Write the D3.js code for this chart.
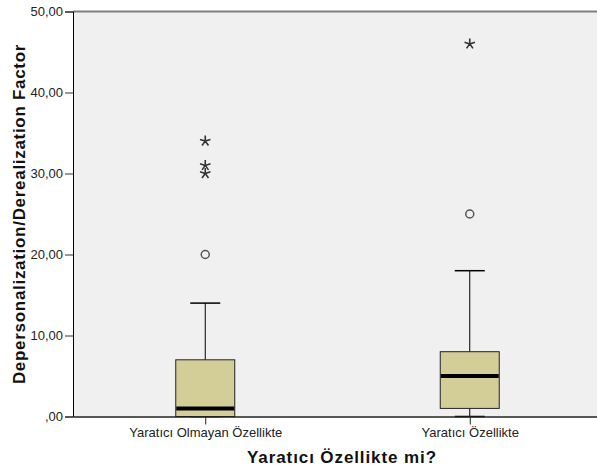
<!DOCTYPE html>
<html><head><meta charset="utf-8">
<script src="https://cdn.jsdelivr.net/npm/d3@7"></script>
<style>body{margin:0;background:#fff}svg{display:block}</style>
</head><body>
<script>
const categories = ["Yaratıcı Olmayan Özellikte", "Yaratıcı Özellikte"];
const whiskerLow = [0, 0];
const q1 = [0, 1];
const medians = [1, 5];
const q3 = [7, 8];
const whiskerHigh = [14, 18];
const outliers = [[20], [25]];
const extremes = [[34, 31, 30], [46]];
const yTicks = [0, 10, 20, 30, 40, 50];
const yTickLabels = [",00", "10,00", "20,00", "30,00", "40,00", "50,00"];
const xTitle = "Yaratıcı Özellikte mi?";
const yTitle = "Depersonalization/Derealization Factor";

const W = 597, H = 473;
const L = 73, R = 602, T = 11.5, B = 416.5;
const svg = d3.select("body").append("svg").attr("width", W).attr("height", H);
const font = "Arial, 'Liberation Sans', sans-serif";

const x = d3.scalePoint().domain(categories).range([L, R]).padding(0.5);
const y = d3.scaleLinear().domain([0, 50]).range([B, T]);

svg.append("rect").attr("x", L).attr("y", T).attr("width", R - L).attr("height", B - T).attr("fill", "#f0f0f0");

// top border
svg.append("line").attr("x1", L).attr("x2", W).attr("y1", T).attr("y2", T).attr("stroke", "#7f7f7f").attr("stroke-width", 2);

// y axis
const yAxis = d3.axisLeft(y).tickValues(yTicks).tickSize(8).tickFormat((d, i) => yTickLabels[i]);
const gy = svg.append("g").attr("transform", `translate(${L},0)`).call(yAxis);
gy.select(".domain").attr("stroke", "#000");
gy.selectAll(".tick line").attr("stroke", "#333");
gy.selectAll(".tick text").attr("font-family", font).attr("font-size", 13).attr("fill", "#222").attr("x", -10);

const data = categories.map((c, i) => ({c, i}));
const bw = 59, cw = 30;
const g = svg.append("g");
data.forEach(d => {
  const cx = x(d.c);
  // whiskers
  g.append("line").attr("x1", cx).attr("x2", cx).attr("y1", y(q3[d.i])).attr("y2", y(whiskerHigh[d.i])).attr("stroke", "#000");
  g.append("line").attr("x1", cx).attr("x2", cx).attr("y1", y(q1[d.i])).attr("y2", y(whiskerLow[d.i])).attr("stroke", "#000");
  g.append("line").attr("x1", cx - cw / 2).attr("x2", cx + cw / 2).attr("y1", y(whiskerHigh[d.i])).attr("y2", y(whiskerHigh[d.i])).attr("stroke", "#000").attr("stroke-width", 1.5);
  g.append("line").attr("x1", cx - cw / 2).attr("x2", cx + cw / 2).attr("y1", y(whiskerLow[d.i])).attr("y2", y(whiskerLow[d.i])).attr("stroke", "#000").attr("stroke-width", 1.5);
  // box
  g.append("rect").attr("x", cx - bw / 2).attr("width", bw).attr("y", y(q3[d.i])).attr("height", y(q1[d.i]) - y(q3[d.i]))
    .attr("fill", "#d3ce97").attr("stroke", "#222").attr("stroke-width", 1);
  g.append("line").attr("x1", cx - bw / 2 + 0.5).attr("x2", cx + bw / 2 - 0.5).attr("y1", y(medians[d.i])).attr("y2", y(medians[d.i])).attr("stroke", "#000").attr("stroke-width", 4);
  // outliers
  outliers[d.i].forEach(v => {
    g.append("circle").attr("cx", cx).attr("cy", y(v)).attr("r", 4).attr("fill", "none").attr("stroke", "#555").attr("stroke-width", 1.5);
  });
  extremes[d.i].forEach(v => {
    const r = 5.5;
    let p = "";
    for (let k = 0; k < 5; k++) {
      const a = (-90 + k * 72) * Math.PI / 180;
      p += `M${cx},${y(v)}L${cx + r * Math.cos(a)},${y(v) + r * Math.sin(a)}`;
    }
    g.append("path").attr("d", p).attr("stroke", "#333").attr("stroke-width", 1.6).attr("fill", "none");
  });
});

// x axis
const xAxis = d3.axisBottom(x).tickSize(8).tickSizeOuter(0);
const gx = svg.append("g").attr("transform", `translate(0,${B})`).call(xAxis);
gx.select(".domain").attr("stroke", "#222").attr("stroke-width", 1.5);
gx.selectAll(".tick line").attr("stroke", "#222");
gx.selectAll(".tick text").attr("font-family", font).attr("font-size", 13).attr("fill", "#222").attr("y", 11);

svg.append("text").attr("x", 342).attr("y", 463).attr("text-anchor", "middle")
  .attr("font-family", font).attr("font-weight", "bold").attr("font-size", 17).attr("letter-spacing", 0.9).attr("fill", "#111").text(xTitle);
svg.append("text").attr("transform", `translate(25,${(T + B) / 2}) rotate(-90)`).attr("text-anchor", "middle")
  .attr("font-family", font).attr("font-weight", "bold").attr("font-size", 17).attr("letter-spacing", 0.7).attr("fill", "#111").text(yTitle);
</script>
</body></html>
